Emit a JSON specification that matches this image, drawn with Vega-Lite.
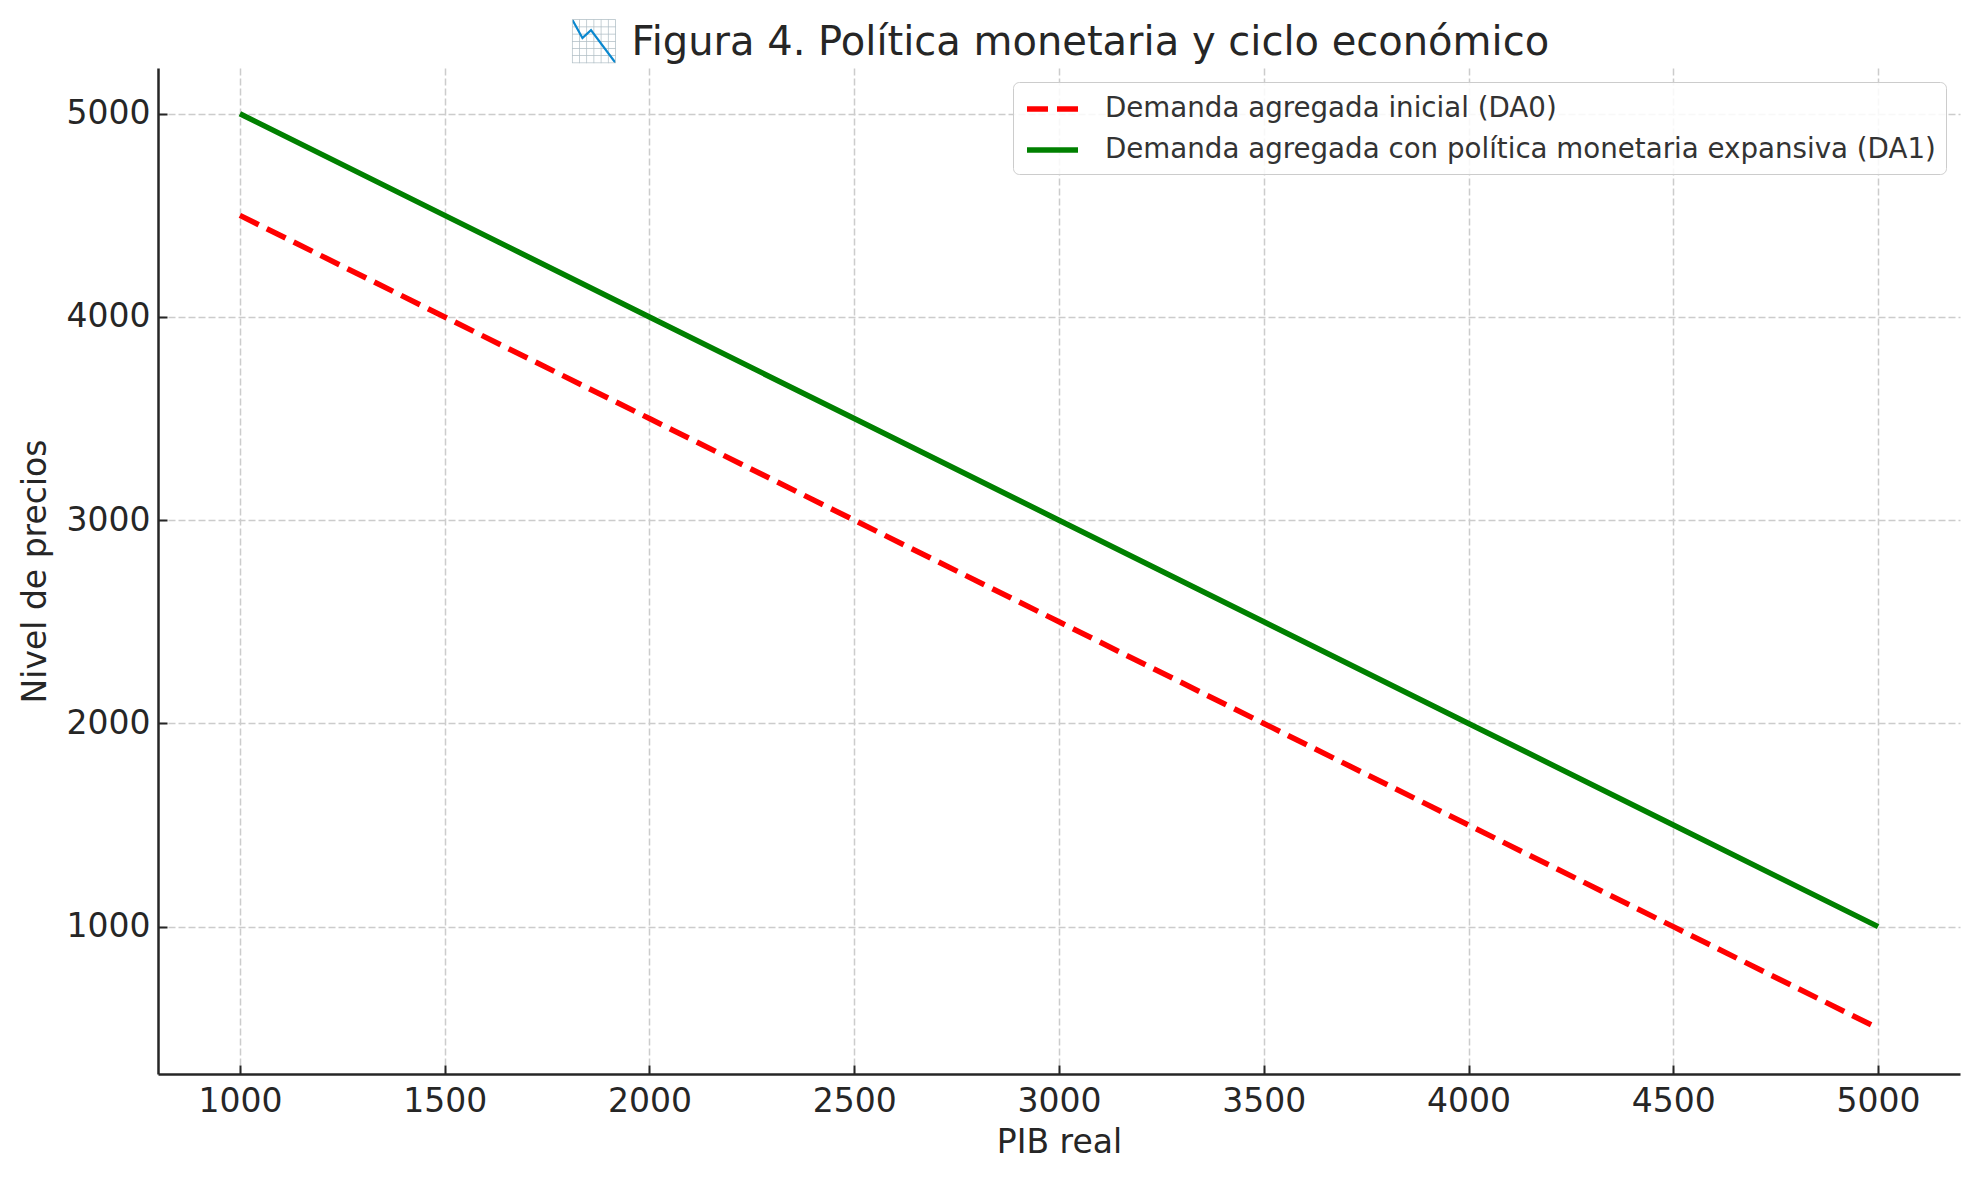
{
  "$schema": "https://vega.github.io/schema/vega-lite/v6.json",
  "width": 1802,
  "height": 1006,
  "autosize": {"type": "none"},
  "padding": {"left": 158, "top": 68, "right": 19, "bottom": 106},
  "background": "white",
  "title": {
    "text": "📉 Figura 4. Política monetaria y ciclo económico",
    "font": "DejaVu Sans",
    "fontSize": 40,
    "fontWeight": "normal",
    "color": "#262626",
    "anchor": "middle",
    "offset": 5
  },
  "config": {
    "view": {"stroke": null},
    "font": "DejaVu Sans"
  },
  "data": {
    "values": [
      {"pib": 1000, "precio": 4500, "serie": "Demanda agregada inicial (DA0)"},
      {"pib": 1500, "precio": 4000, "serie": "Demanda agregada inicial (DA0)"},
      {"pib": 2000, "precio": 3500, "serie": "Demanda agregada inicial (DA0)"},
      {"pib": 2500, "precio": 3000, "serie": "Demanda agregada inicial (DA0)"},
      {"pib": 3000, "precio": 2500, "serie": "Demanda agregada inicial (DA0)"},
      {"pib": 3500, "precio": 2000, "serie": "Demanda agregada inicial (DA0)"},
      {"pib": 4000, "precio": 1500, "serie": "Demanda agregada inicial (DA0)"},
      {"pib": 4500, "precio": 1000, "serie": "Demanda agregada inicial (DA0)"},
      {"pib": 5000, "precio": 500, "serie": "Demanda agregada inicial (DA0)"},
      {"pib": 1000, "precio": 5000, "serie": "Demanda agregada con política monetaria expansiva (DA1)"},
      {"pib": 1500, "precio": 4500, "serie": "Demanda agregada con política monetaria expansiva (DA1)"},
      {"pib": 2000, "precio": 4000, "serie": "Demanda agregada con política monetaria expansiva (DA1)"},
      {"pib": 2500, "precio": 3500, "serie": "Demanda agregada con política monetaria expansiva (DA1)"},
      {"pib": 3000, "precio": 3000, "serie": "Demanda agregada con política monetaria expansiva (DA1)"},
      {"pib": 3500, "precio": 2500, "serie": "Demanda agregada con política monetaria expansiva (DA1)"},
      {"pib": 4000, "precio": 2000, "serie": "Demanda agregada con política monetaria expansiva (DA1)"},
      {"pib": 4500, "precio": 1500, "serie": "Demanda agregada con política monetaria expansiva (DA1)"},
      {"pib": 5000, "precio": 1000, "serie": "Demanda agregada con política monetaria expansiva (DA1)"}
    ]
  },
  "encoding": {
    "x": {
      "field": "pib",
      "type": "quantitative",
      "scale": {"domain": [800, 5200], "nice": false, "zero": false},
      "axis": {
        "title": "PIB real",
        "values": [1000, 1500, 2000, 2500, 3000, 3500, 4000, 4500, 5000],
        "format": "d",
        "labelFont": "DejaVu Sans",
        "labelFontSize": 33,
        "labelColor": "#262626",
        "titleFont": "DejaVu Sans",
        "titleFontSize": 33,
        "titleFontWeight": "normal",
        "titleColor": "#262626",
        "titlePadding": 8,
        "domainColor": "#262626",
        "domainWidth": 2.5,
        "tickColor": "#262626",
        "tickWidth": 2,
        "tickSize": -9,
        "labelPadding": 20,
        "grid": true,
        "gridColor": "#cccccc",
        "gridWidth": 1.5,
        "gridDash": [7, 3]
      }
    },
    "y": {
      "field": "precio",
      "type": "quantitative",
      "scale": {"domain": [275, 5225], "nice": false, "zero": false},
      "axis": {
        "title": "Nivel de precios",
        "values": [1000, 2000, 3000, 4000, 5000],
        "format": "d",
        "labelFont": "DejaVu Sans",
        "labelFontSize": 33,
        "labelColor": "#262626",
        "titleFont": "DejaVu Sans",
        "titleFontSize": 33,
        "titleFontWeight": "normal",
        "titleColor": "#262626",
        "titlePadding": 14,
        "domainColor": "#262626",
        "domainWidth": 2.5,
        "tickColor": "#262626",
        "tickWidth": 2,
        "tickSize": -9,
        "labelPadding": 17,
        "grid": true,
        "gridColor": "#cccccc",
        "gridWidth": 1.5,
        "gridDash": [7, 3]
      }
    },
    "color": {
      "field": "serie",
      "type": "nominal",
      "scale": {
        "domain": ["Demanda agregada inicial (DA0)", "Demanda agregada con política monetaria expansiva (DA1)"],
        "range": ["#ff0000", "#008000"]
      },
      "legend": {
        "title": null,
        "orient": "top-right",
        "offset": 14,
        "padding": 10,
        "fillColor": "rgba(255,255,255,0.85)",
        "strokeColor": "#cccccc",
        "cornerRadius": 6,
        "symbolType": "M-0.929,0H2.714",
        "symbolSize": 784,
        "symbolStrokeWidth": 5.5,
        "symbolFillColor": "transparent",
        "labelFont": "DejaVu Sans",
        "labelFontSize": 27.7,
        "labelColor": "#333333",
        "labelOffset": 48,
        "labelLimit": 1200,
        "rowPadding": 10,
        "encode": {
          "symbols": {
            "update": {
              "strokeDash": [
                {"test": "datum.value === 'Demanda agregada inicial (DA0)'", "value": [21, 9]},
                {"value": [1, 0]}
              ]
            }
          }
        }
      }
    }
  },
  "layer": [
    {
      "transform": [{"filter": "datum.serie === 'Demanda agregada inicial (DA0)'"}],
      "mark": {"type": "line", "strokeWidth": 5.5, "strokeDash": [21, 9], "clip": true}
    },
    {
      "transform": [{"filter": "datum.serie !== 'Demanda agregada inicial (DA0)'"}],
      "mark": {"type": "line", "strokeWidth": 5.5, "clip": true}
    }
  ]
}
